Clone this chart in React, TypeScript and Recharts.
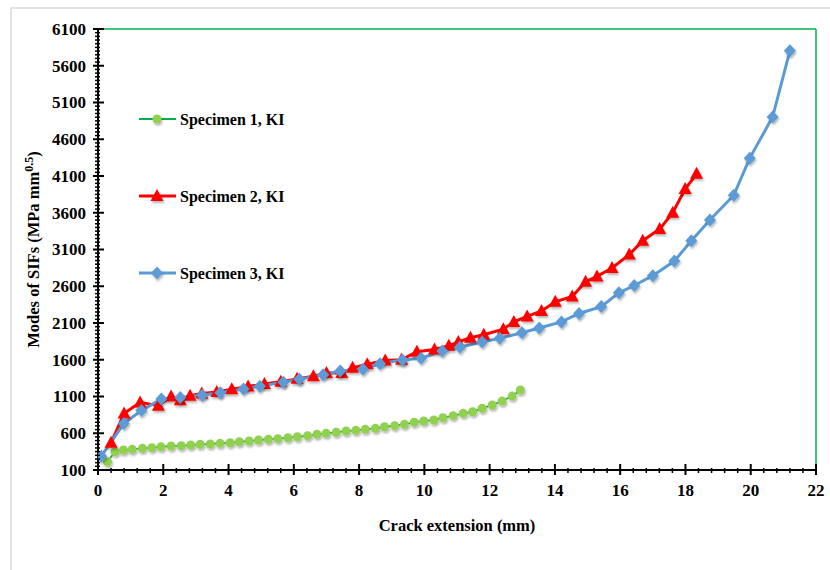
import React from 'react';
import { LineChart, Line, XAxis, YAxis, ReferenceLine, Legend } from 'recharts';

// ---- data ----
const spec1X = [0.29, 0.52, 0.78, 1.05, 1.36, 1.65, 1.93, 2.24, 2.55, 2.84, 3.13, 3.44, 3.74, 4.05, 4.33, 4.63, 4.92, 5.22, 5.51, 5.82, 6.11, 6.42, 6.71, 6.99, 7.3, 7.6, 7.9, 8.19, 8.5, 8.78, 9.09, 9.39, 9.69, 9.98, 10.29, 10.57, 10.88, 11.19, 11.48, 11.77, 12.08, 12.38, 12.69, 12.94];
const spec1Y = [213, 349, 372, 381, 395, 404, 417, 426, 430, 440, 449, 454, 463, 471, 485, 494, 508, 517, 526, 539, 553, 567, 588, 599, 612, 630, 640, 653, 667, 689, 703, 721, 749, 766, 780, 811, 839, 871, 893, 939, 984, 1038, 1106, 1188];

const spec2X = [0.4, 0.8, 1.29, 1.85, 2.24, 2.52, 2.82, 3.18, 3.64, 4.1, 4.6, 5.1, 5.6, 6.1, 6.6, 7.0, 7.47, 7.8, 8.25, 8.8, 9.3, 9.77, 10.31, 10.75, 11.04, 11.41, 11.82, 12.42, 12.74, 13.15, 13.59, 14.01, 14.53, 14.94, 15.29, 15.75, 16.28, 16.69, 17.21, 17.61, 17.99, 18.34];
const spec2Y = [470, 870, 1020, 975, 1100, 1050, 1110, 1140, 1160, 1200, 1235, 1270, 1300, 1340, 1375, 1420, 1420, 1490, 1540, 1590, 1600, 1710, 1740, 1790, 1843, 1900, 1940, 2016, 2115, 2190, 2264, 2388, 2462, 2660, 2734, 2848, 3031, 3219, 3378, 3600, 3922, 4130];

const spec3X = [0.1, 0.79, 1.33, 1.94, 2.52, 3.19, 3.75, 4.46, 4.96, 5.68, 6.17, 6.9, 7.42, 8.12, 8.64, 9.33, 9.9, 10.55, 11.09, 11.77, 12.31, 12.99, 13.52, 14.2, 14.74, 15.42, 15.96, 16.43, 17.0, 17.66, 18.18, 18.75, 19.48, 19.97, 20.67, 21.2];
const spec3Y = [288, 732, 908, 1066, 1086, 1118, 1152, 1203, 1241, 1294, 1333, 1397, 1447, 1472, 1546, 1596, 1620, 1719, 1769, 1843, 1892, 1967, 2031, 2115, 2229, 2323, 2511, 2610, 2744, 2942, 3219, 3501, 3838, 4343, 4902, 5803];

const seriesNames = ['Specimen 1, KI', 'Specimen 2, KI', 'Specimen 3, KI'];
const xMajorTicks = [0, 2, 4, 6, 8, 10, 12, 14, 16, 18, 20, 22];
const yMajorTicks = [100, 600, 1100, 1600, 2100, 2600, 3100, 3600, 4100, 4600, 5100, 5600, 6100];

const toRows = (xs: number[], ys: number[]) => xs.map((x, i) => ({ x, y: ys[i] }));
const data1 = toRows(spec1X, spec1Y);
const data2 = toRows(spec2X, spec2Y);
const data3 = toRows(spec3X, spec3Y);

// minor tick positions (axis subdivisions)
const xTicks: number[] = [];
for (let i = 0; i <= 55; i++) xTicks.push(Math.round(i * 4) / 10);
const yTicks: number[] = [];
for (let i = 0; i <= 120; i++) yTicks.push(100 + i * 50);

const FONT = '"Liberation Serif", "Times New Roman", serif';
const GREEN_LINE = '#00B050';
const GREEN_DOT = '#92D050';
const RED = '#FF0000';
const BLUE = '#5B9BD5';

const isMajorX = (v: number) => xMajorTicks.some((t) => Math.abs(t - v) < 1e-6);
const isMajorY = (v: number) => yMajorTicks.some((t) => Math.abs(t - v) < 1e-6);

const XTick = (p: any) => {
  const { x, y, payload } = p;
  const major = isMajorX(payload.value);
  return (
    <g>
      <line x1={x} x2={x} y1={y - (major ? 6 : 2)} y2={y + (major ? 5 : 3)} stroke="#000" strokeWidth={major ? 2 : 1.5} />
      {major && (
        <text x={x} y={y + 20} dy="0.35em" textAnchor="middle" fontFamily={FONT} fontWeight="bold" fontSize={17} fill="#000">
          {payload.value}
        </text>
      )}
    </g>
  );
};

const YTick = (p: any) => {
  const { x, y, payload } = p;
  const major = isMajorY(payload.value);
  return (
    <g>
      <line x1={x - (major ? 5 : 3)} x2={x + (major ? 6 : 2)} y1={y} y2={y} stroke="#000" strokeWidth={major ? 2 : 1.5} />
      {major && (
        <text x={x - 12} y={y} dy="0.35em" textAnchor="end" fontFamily={FONT} fontWeight="bold" fontSize={17} fill="#000">
          {payload.value}
        </text>
      )}
    </g>
  );
};

const circleShape = (cx: number, cy: number, key?: any) => (
  <circle key={key} cx={cx} cy={cy} r={4.5} fill={GREEN_DOT} filter="url(#shd)" />
);
const triShape = (cx: number, cy: number, key?: any) => (
  <path key={key} d={`M${cx},${cy - 7} L${cx + 6.5},${cy + 5} L${cx - 6.5},${cy + 5} Z`} fill={RED} filter="url(#shd)" />
);
const diaShape = (cx: number, cy: number, key?: any) => (
  <path key={key} d={`M${cx},${cy - 6.5} L${cx + 6},${cy} L${cx},${cy + 6.5} L${cx - 6},${cy} Z`} fill={BLUE} filter="url(#shd)" />
);

const Dot1 = (p: any) => (p.cx == null ? <g key={p.key} /> : circleShape(p.cx, p.cy, p.key));
const Dot2 = (p: any) => (p.cx == null ? <g key={p.key} /> : triShape(p.cx, p.cy, p.key));
const Dot3 = (p: any) => (p.cx == null ? <g key={p.key} /> : diaShape(p.cx, p.cy, p.key));

const legendMeta = [
  { color: GREEN_LINE, width: 2, shape: circleShape },
  { color: RED, width: 3, shape: triShape },
  { color: BLUE, width: 3, shape: diaShape },
];

const LegendContent = () => (
  <svg width={200} height={180}>
    {seriesNames.map((name, i) => {
      const cy = 12 + i * 77;
      const m = legendMeta[i];
      return (
        <g key={name}>
          <line x1={0} x2={37} y1={cy} y2={cy} stroke={m.color} strokeWidth={m.width} />
          {m.shape(18, cy)}
          <text x={41} y={cy} dy="0.35em" fontFamily={FONT} fontWeight="bold" fontSize={16} fill="#000">
            {name}
          </text>
        </g>
      );
    })}
  </svg>
);

const YLabel = (props: any) => {
  const vb = props.viewBox || { x: 10, y: 29, width: 88, height: 441 };
  const cx = vb.x + 23;
  const cy = vb.y + vb.height / 2;
  return (
    <text x={cx} y={cy} transform={`rotate(-90, ${cx}, ${cy})`} textAnchor="middle" dy="0.35em" fontFamily={FONT} fontWeight="bold" fontSize={16.5} fill="#000">
      Modes of SIFs (MPa mm
      <tspan dy="-6" fontSize={12}>0.5</tspan>
      <tspan dy="6">)</tspan>
    </text>
  );
};

const XLabel = (props: any) => {
  const vb = props.viewBox || { x: 98, y: 470, width: 718, height: 30 };
  return (
    <text x={vb.x + vb.width / 2} y={vb.y + 55} dy="0.35em" textAnchor="middle" fontFamily={FONT} fontWeight="bold" fontSize={16.5} fill="#000">
      Crack extension (mm)
    </text>
  );
};

export default function App() {
  return (
    <div style={{ position: 'absolute', left: 0, top: 0, width: 830, height: 570, overflow: 'hidden', background: '#fff' }}>
      <svg width={0} height={0} style={{ position: 'absolute' }}>
        <defs>
          <filter id="shd" x="-50%" y="-50%" width="200%" height="200%">
            <feDropShadow dx="1" dy="2" stdDeviation="1.2" floodColor="#000" floodOpacity="0.3" />
          </filter>
        </defs>
      </svg>
      <div style={{ position: 'absolute', left: 10, top: 7, width: 900, height: 700, border: '2px solid #e3e3e3' }} />
      <div style={{ position: 'absolute', left: 0, top: 0 }}>
        <LineChart width={830} height={570} margin={{ top: 29, right: 14, bottom: 70, left: 10 }}>
          <XAxis
            type="number"
            dataKey="x"
            domain={[0, 22]}
            ticks={xTicks}
            interval={0}
            tickLine={false}
            tickSize={0}
            tickMargin={0}
            height={30}
            axisLine={{ stroke: '#000', strokeWidth: 2 }}
            tick={<XTick />}
            allowDataOverflow
            label={{ content: <XLabel /> }}
          />
          <YAxis
            type="number"
            dataKey="y"
            domain={[100, 6100]}
            ticks={yTicks}
            interval={0}
            tickLine={false}
            tickSize={0}
            tickMargin={0}
            width={88}
            axisLine={{ stroke: '#000', strokeWidth: 2 }}
            tick={<YTick />}
            allowDataOverflow
            label={{ content: <YLabel /> }}
          />
          <ReferenceLine y={6100} stroke={GREEN_LINE} strokeWidth={1.5} />
          <ReferenceLine x={22} stroke={GREEN_LINE} strokeWidth={1.5} />
          <Legend
            layout="vertical"
            align="center"
            verticalAlign="middle"
            content={<LegendContent />}
            wrapperStyle={{ position: 'absolute', left: 139, top: 107, width: 200, height: 180 }}
          />
          <Line name={seriesNames[0]} data={data1} dataKey="y" type="linear" stroke={GREEN_LINE} strokeWidth={1.5} dot={<Dot1 />} isAnimationActive={false} />
          <Line name={seriesNames[1]} data={data2} dataKey="y" type="linear" stroke={RED} strokeWidth={3} dot={<Dot2 />} isAnimationActive={false} />
          <Line name={seriesNames[2]} data={data3} dataKey="y" type="linear" stroke={BLUE} strokeWidth={3} dot={<Dot3 />} isAnimationActive={false} />
        </LineChart>
      </div>
    </div>
  );
}
